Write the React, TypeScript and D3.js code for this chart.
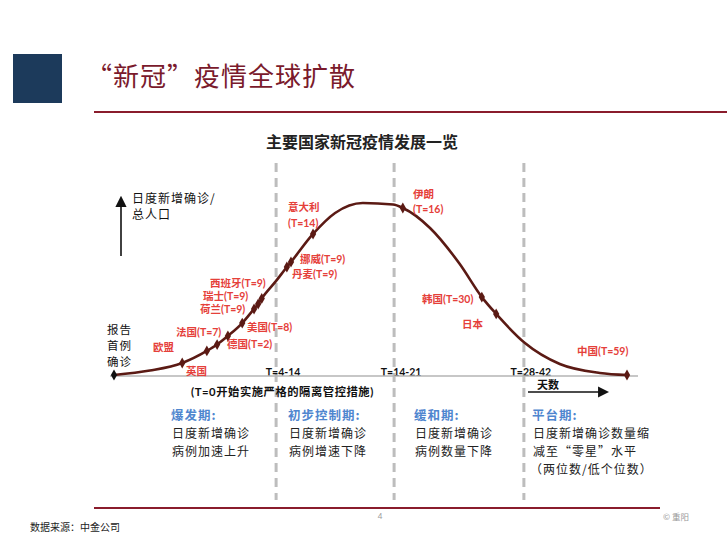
import React from "react";
import * as d3 from "d3";

// ---- data (abstract progress units: x 0..100 days-progress, y 0..100 relative intensity) ----
const SHAPE_X = [7.0, 31.6, 43.1, 48.5, 54.4, 61.6, 67.4, 80.1, 86.9, 94.7];
const SHAPE_Y = [2.6, 54.7, 94.2, 100, 99.1, 85.5, 64.5, 18.6, 6.4, 1.2];

const MARKER_NAMES = ["起点", "英国", "欧盟", "法国", "德国", "美国", "荷兰", "瑞士", "西班牙", "丹麦", "挪威", "意大利", "伊朗", "韩国", "日本", "中国"];
const MARKER_X = [0, 13.3, 18.1, 20.1, 22.2, 25.0, 27.3, 28.1, 28.8, 33.7, 34.5, 38.8, 56.3, 71.7, 74.5, 100];
const MARKER_Y = [0, 7.0, 14.0, 17.7, 22.7, 30.2, 38.4, 41.3, 44.5, 62.8, 65.7, 82.0, 97.1, 45.3, 35.5, 0];

const PHASE_BOUNDS = [31.6, 54.6, 79.9];
const PHASE_BOUND_LABELS = ["T=4-14", "T=14-21", "T=28-42"];

const COUNTRY_LABELS = [
  "意大利", "(T=14)", "挪威(T=9)", "丹麦(T=9)", "西班牙(T=9)", "瑞士(T=9)", "荷兰(T=9)",
  "法国(T=7)", "美国(T=8)", "德国(T=2)", "欧盟", "英国", "伊朗", "(T=16)", "韩国(T=30)", "日本", "中国(T=59)",
];

const PHASE_TITLES = ["爆发期:", "初步控制期:", "缓和期:", "平台期:"];
const PHASE_TEXT = [
  ["日度新增确诊", "病例加速上升"],
  ["日度新增确诊", "病例增速下降"],
  ["日度新增确诊", "病例数量下降"],
  ["日度新增确诊数量缩", "减至“零星”水平", "（两位数/低个位数）"],
];

// ---- layout ----
const W = 727;
const H = 539;
const LABEL_POS: [number, number][] = [
  [288, 207], [288, 223], [300, 259], [292, 274], [210, 283], [203, 296], [200, 309],
  [176, 332], [247, 327], [227, 344], [153, 347], [186, 371], [413, 194], [413, 209], [422, 299], [462, 324], [577, 351],
];
const PHASE_X = [171, 288, 414, 532];

const CJK = "'Noto Sans CJK SC', sans-serif";
const LAT = "Lato, 'Noto Sans CJK SC', sans-serif";
const RED = "#e5403a";
const CURVE = "#5b1a14";
const BLUE = "#4f86cf";

export default function App() {
  const x = d3.scaleLinear().domain([0, 100]).range([114, 627]);
  const y = d3.scaleLinear().domain([0, 100]).range([375, 203]);

  const pts: [number, number][] = [
    ...SHAPE_X.map((v, i) => [v, SHAPE_Y[i]] as [number, number]),
    ...MARKER_X.map((v, i) => [v, MARKER_Y[i]] as [number, number]),
  ].sort((a, b) => a[0] - b[0]);

  const line = d3
    .line<[number, number]>()
    .x((d) => x(d[0]))
    .y((d) => y(d[1]))
    .curve(d3.curveMonotoneX);

  const diamond = d3.symbol().type(d3.symbolDiamond).size(34)();

  return (
    <svg width={W} height={H} viewBox={`0 0 ${W} ${H}`} style={{ position: "absolute", left: 0, top: 0, background: "#fff" }}>
      <defs>
        <marker id="arr" viewBox="0 0 10 10" refX="8" refY="5" markerWidth="7" markerHeight="7" orient="auto-start-reverse">
          <path d="M0,0 L10,5 L0,10 z" fill="#111" />
        </marker>
      </defs>
      {/* header */}
      <rect x={13} y={54} width={49} height={49} fill="#1c3a5b" />
      <text x={86} y={74} dominantBaseline="central" fontFamily={CJK} fontSize={26} letterSpacing={1} fill="#7a1a2c">
        “新冠”疫情全球扩散
      </text>
      <line x1={94} x2={727} y1={112} y2={112} stroke="#8a1c2c" strokeWidth={2} />

      {/* chart title */}
      <text x={362} y={141} textAnchor="middle" dominantBaseline="central" fontFamily={CJK} fontWeight={700} fontSize={16} fill="#222">
        主要国家新冠疫情发展一览
      </text>

      {/* phase boundaries */}
      {PHASE_BOUNDS.map((b, i) => (
        <g key={i}>
          <line x1={x(b)} x2={x(b)} y1={163} y2={500} stroke="#bdbdbd" strokeWidth={3} strokeDasharray="9 6" />
          <text x={x(b) + 7} y={372} textAnchor="middle" dominantBaseline="central" fontFamily={LAT} fontWeight={700} fontSize={10.5} fill="#111">
            {PHASE_BOUND_LABELS[i]}
          </text>
        </g>
      ))}

      {/* baseline */}
      <line x1={110} x2={638} y1={y(0) + 1} y2={y(0) + 1} stroke="#b5b5b5" strokeWidth={1.5} />

      {/* y axis arrow & label */}
      <line x1={121} x2={121} y1={256} y2={198} stroke="#111" strokeWidth={1.6} markerEnd="url(#arr)" />
      <text x={132} y={197} dominantBaseline="central" fontFamily={CJK} fontSize={12} letterSpacing={1} fill="#111">日度新增确诊/</text>
      <text x={132} y={213} dominantBaseline="central" fontFamily={CJK} fontSize={12} letterSpacing={1} fill="#111">总人口</text>

      {/* first case label */}
      {["报告", "首例", "确诊"].map((t, i) => (
        <text key={t} x={107} y={329 + i * 16} dominantBaseline="central" fontFamily={CJK} fontSize={11.5} letterSpacing={1} fill="#111">{t}</text>
      ))}

      {/* curve */}
      <path d={line(pts) || ""} fill="none" stroke={CURVE} strokeWidth={2.6} />
      {MARKER_X.map((v, i) => (
        <path key={MARKER_NAMES[i]} d={diamond || ""} transform={`translate(${x(v)},${y(MARKER_Y[i])})`} fill={i === 0 ? "#111" : CURVE} />
      ))}

      {/* country labels */}
      {COUNTRY_LABELS.map((t, i) => (
        <text key={i} x={LABEL_POS[i][0]} y={LABEL_POS[i][1]} dominantBaseline="central" fontFamily={LAT} fontWeight={700} fontSize={10.5} fill={RED}>
          {t}
        </text>
      ))}

      {/* x axis note */}
      <text x={191} y={391} dominantBaseline="central" fontFamily={LAT} fontWeight={700} fontSize={11.3} letterSpacing={0.55} fill="#111">(T=0开始实施严格的隔离管控措施)</text>
      <text x={537} y={384} dominantBaseline="central" fontFamily={CJK} fontWeight={700} fontSize={11} fill="#111">天数</text>
      <line x1={528} x2={607} y1={392} y2={392} stroke="#111" strokeWidth={1.6} markerEnd="url(#arr)" />

      {/* phase descriptions */}
      {PHASE_TITLES.map((t, i) => (
        <g key={t}>
          <text x={PHASE_X[i]} y={414} dominantBaseline="central" fontFamily={CJK} fontWeight={700} fontSize={12.5} letterSpacing={1} fill={BLUE}>{t}</text>
          {PHASE_TEXT[i].map((s, j) => (
            <text key={j} x={PHASE_X[i] + (i === 3 && j === 2 ? -2 : 1)} y={432 + j * 18} dominantBaseline="central" fontFamily={CJK} fontSize={12} letterSpacing={1} fill="#222">{s}</text>
          ))}
        </g>
      ))}

      {/* footer */}
      <line x1={94} x2={660} y1={508} y2={508} stroke="#8a1c2c" strokeWidth={2} />
      <text x={380} y={516} textAnchor="middle" dominantBaseline="central" fontFamily={LAT} fontSize={8} fill="#999">4</text>
      <text x={663} y={516} dominantBaseline="central" fontFamily={CJK} fontSize={8.5} fill="#999">© 重阳</text>
      <text x={30} y={526} dominantBaseline="central" fontFamily={CJK} fontSize={10} fill="#222">数据来源：中金公司</text>
    </svg>
  );
}
